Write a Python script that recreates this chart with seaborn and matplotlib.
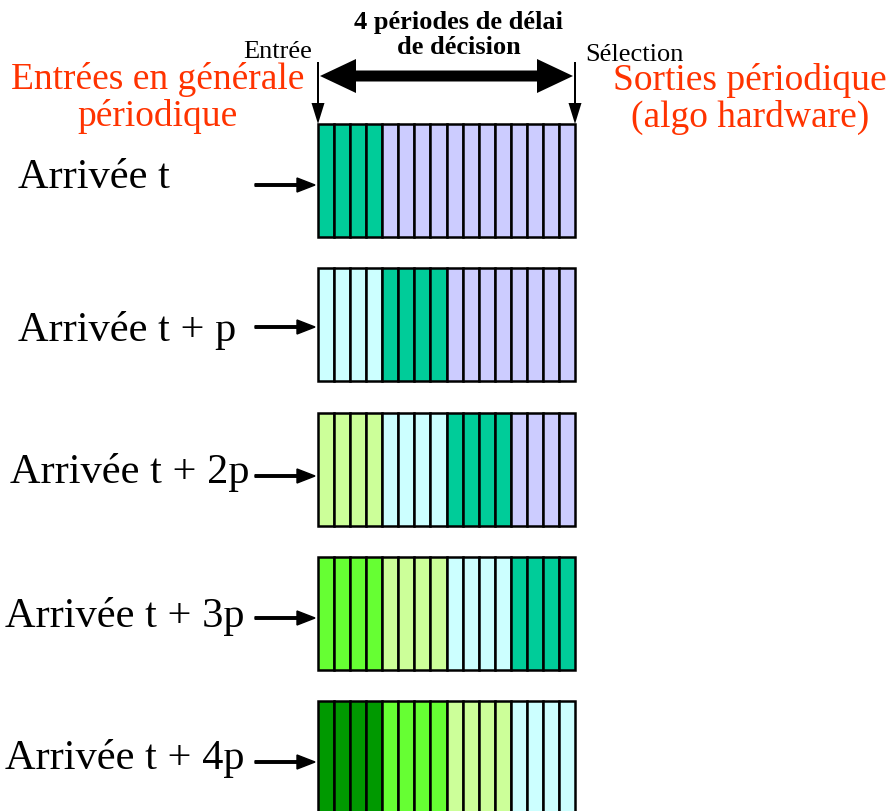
import matplotlib
matplotlib.use("Agg")
import matplotlib.pyplot as plt
import seaborn as sns

sns.set_style("white")
plt.rcParams['font.family'] = ['Liberation Serif', 'DejaVu Serif']
plt.rcParams['text.color'] = 'black'

# ---- data ----
row_labels = ["Arrivée t", "Arrivée t + p", "Arrivée t + 2p", "Arrivée t + 3p", "Arrivée t + 4p"]
# colour of each group of 4 cells, per row (4 groups x 4 cells = 16 cells)
row0 = ["#00CC99", "#CCCCFF", "#CCCCFF", "#CCCCFF"]
row1 = ["#CCFFFF", "#00CC99", "#CCCCFF", "#CCCCFF"]
row2 = ["#CCFF99", "#CCFFFF", "#00CC99", "#CCCCFF"]
row3 = ["#66FF33", "#CCFF99", "#CCFFFF", "#00CC99"]
row4 = ["#009900", "#66FF33", "#CCFF99", "#CCFFFF"]
rows = [row0, row1, row2, row3, row4]
cells_per_group = 4

title_text = "4 périodes de délai\nde décision"
left_note = "Entrées en générale\npériodique"
right_note = "Sorties périodique\n(algo hardware)"

# ---- figure ----
fig = plt.figure(figsize=(8.93, 8.11), dpi=100)
ax = fig.add_axes([0, 0, 1, 1])
ax.set_xlim(0, 893)
ax.set_ylim(811, 0)
ax.axis('off')

x0, x1 = 318, 575
n_cells = len(row0) * cells_per_group
cw = (x1 - x0) / n_cells
row_top0, row_h, row_step = 124, 113, 144.3

label_pos = [(18, 178), (18, 330), (10, 472), (5, 617), (5, 759)]
arrow_y = [185, 327, 476, 618, 762]

for r, groups in enumerate(rows):
    top = row_top0 + r * row_step
    yc = top + row_h / 2
    colors = [g for g in groups for _ in range(cells_per_group)]
    lefts = [x0 + i * cw for i in range(n_cells)]
    ax.barh([yc] * n_cells, [cw] * n_cells, left=lefts, height=row_h,
            color=colors, edgecolor='black', linewidth=1.8)
    lx, ly = label_pos[r]
    ax.text(lx, ly, row_labels[r], fontsize=30.5, ha='left', va='center', color='black')
    ay = arrow_y[r]
    ax.arrow(255, ay, 60, 0, width=2.5, head_width=14, head_length=18,
             length_includes_head=True, color='black')

# top double-headed arrow as a single polygon
ya, sw, hw, hl = 76, 5.5, 17, 36
xa, xb = x0 + 2, x1 - 2
px = [xa, xa + hl, xa + hl, xb - hl, xb - hl, xb, xb - hl, xb - hl, xa + hl, xa + hl]
py = [ya, ya - hw, ya - sw, ya - sw, ya - hw, ya, ya + hw, ya + sw, ya + sw, ya + hw]
ax.fill(px, py, color='black', linewidth=0)
# vertical arrows
for xv in (x0, x1):
    ax.arrow(xv, 62, 0, 62, width=2, head_width=13, head_length=21,
             length_includes_head=True, color='black', linewidth=0)

ax.text(459, 35, title_text, fontsize=19, fontweight='bold', ha='center', va='center',
        linespacing=1.1)
ax.text(312, 52, "Entrée", fontsize=19, ha='right', va='center')
ax.text(585, 55, "Sélection", fontsize=19, ha='left', va='center')
ax.text(158, 98, left_note, fontsize=27, ha='center', va='center', color='#FF3300',
        linespacing=1.05)
ax.text(750, 99, right_note, fontsize=27, ha='center', va='center', color='#FF3300',
        linespacing=1.05)

fig.savefig("out.png", dpi=100)
